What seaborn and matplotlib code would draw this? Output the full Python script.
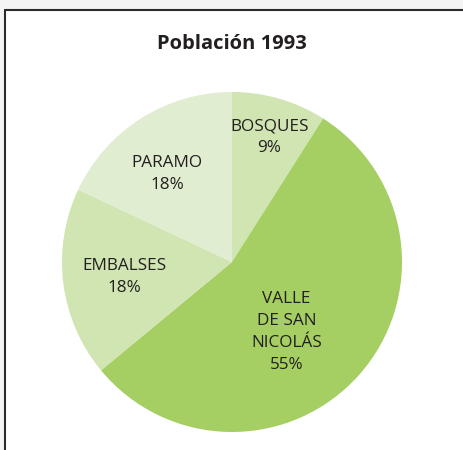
import matplotlib
matplotlib.use("Agg")
import matplotlib.pyplot as plt
import seaborn as sns
from matplotlib.patches import Rectangle
from matplotlib.lines import Line2D

# Data
categories = ["BOSQUES", "VALLE\nDE SAN\nNICOLÁS", "EMBALSES", "PARAMO"]
values = [9, 55, 18, 18]
colors = ["#d0e5b1", "#a6cf63", "#d0e5b1", "#e1edd0"]
title = "Población 1993"

sns.set_theme(style="white")
plt.rcParams["font.family"] = ["Open Sans", "DejaVu Sans"]

W, H = 463, 450
fig = plt.figure(figsize=(W / 100, H / 100), dpi=100)
fig.patch.set_facecolor("#f4f4f4")

# white panel with the top/left frame lines
fig.add_artist(Rectangle((5 / W, 0), 1, (H - 10) / H, transform=fig.transFigure,
                         facecolor="white", edgecolor="none", zorder=0))
fig.add_artist(Line2D([5 / W, 1], [(H - 10) / H] * 2, transform=fig.transFigure,
                      color="#2b2b2b", lw=1.5))
fig.add_artist(Line2D([5 / W] * 2, [0, (H - 10) / H], transform=fig.transFigure,
                      color="#2b2b2b", lw=1.5))

# pie axes: center (232, 262) px, radius 170 px
r = 170
cx, cy = 232, 262
ax = fig.add_axes([(cx - r) / W, (H - cy - r) / H, 2 * r / W, 2 * r / H])
wedges, _ = ax.pie(values, colors=colors, startangle=90, counterclock=False,
                   wedgeprops=dict(linewidth=0), radius=1)
ax.set_xlim(-1, 1)
ax.set_ylim(-1, 1)
ax.set_aspect("auto")
ax.axis("off")

# label positions (relative to pie, radius = 1)
label_pos = [(0.22, 0.735), (0.32, -0.41), (-0.635, -0.09), (-0.38, 0.52)]
for name, v, (x, y) in zip(categories, values, label_pos):
    ax.text(x, y, f"{name}\n{v}%", ha="center", va="center", fontsize=12.3,
            color="#231f20", linespacing=1.5)

fig.text(cx / W, 1 - 44 / H, title, ha="center", va="center",
         fontsize=14.5, fontweight="bold", color="#231f20")

fig.savefig("out.png", dpi=100, facecolor=fig.get_facecolor())
